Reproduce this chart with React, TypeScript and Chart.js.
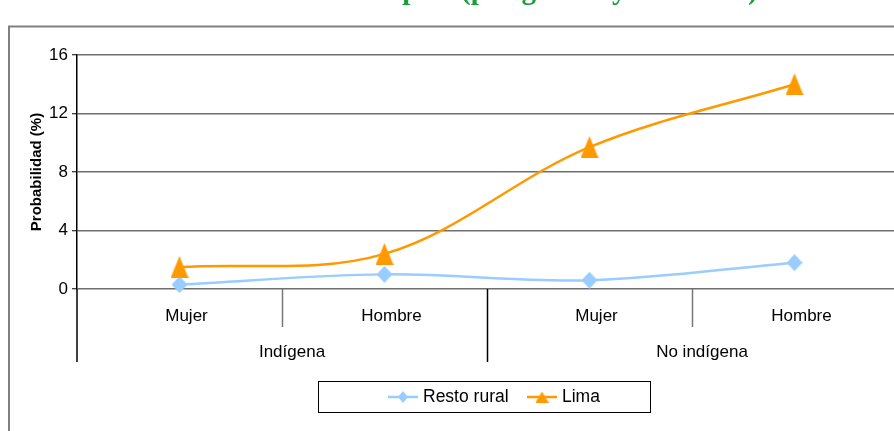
import React, { useEffect, useRef } from 'react';
import { Chart, registerables } from 'chart.js';
Chart.register(...registerables);

// ---- data ----
const categories = ['Mujer', 'Hombre', 'Mujer', 'Hombre'];
const groups = ['Indígena', 'No indígena'];
const groupStart = [0, 2];
const groupEnd = [1, 3];
const seriesNames = ['Resto rural', 'Lima'];
const restoRural = [0.3, 1.0, 0.6, 1.8];
const lima = [1.5, 2.4, 9.7, 14.0];
const yMin = 0;
const yMax = 16;
const yStep = 4;
const yTitle = 'Probabilidad (%)';
const chartTitle = 'Probabilidad de empleo (por género y etnicidad)';

const FONT = '"Liberation Sans", Arial, sans-serif';
const BLUE = '#99CCFF';
const ORANGE = '#FF9900';

function makeMarker(kind: string, w: number, h: number, color: string) {
  const c = document.createElement('canvas');
  c.width = w;
  c.height = h;
  const ctx = c.getContext('2d')!;
  ctx.fillStyle = color;
  ctx.beginPath();
  if (kind === 'triangle') {
    ctx.moveTo(w / 2, 0);
    ctx.lineTo(w, h);
    ctx.lineTo(0, h);
  } else {
    ctx.moveTo(w / 2, 0);
    ctx.lineTo(w, h / 2);
    ctx.lineTo(w / 2, h);
    ctx.lineTo(0, h / 2);
  }
  ctx.closePath();
  ctx.fill();
  return c;
}

export default function App() {
  const ref = useRef<HTMLCanvasElement>(null);

  useEffect(() => {
    const diamond = makeMarker('diamond', 16, 17, BLUE);
    const triangle = makeMarker('triangle', 18, 22, ORANGE);
    const diamondSm = makeMarker('diamond', 10, 12, BLUE);
    const triangleSm = makeMarker('triangle', 13, 11, ORANGE);

    const decor = {
      id: 'decor',
      beforeDraw(chart: any) {
        const ctx = chart.ctx;
        ctx.save();
        ctx.fillStyle = '#fff';
        ctx.fillRect(0, 0, chart.width, chart.height);
        ctx.strokeStyle = '#808080';
        ctx.lineWidth = 2;
        ctx.strokeRect(9, 26.5, 1200, 1200);
        ctx.restore();
      },
      afterDraw(chart: any) {
        const ctx = chart.ctx;
        const x = chart.scales.x;
        const area = chart.chartArea;
        ctx.save();
        // title (clipped at the top of the page)
        ctx.font = 'bold 29px "Liberation Serif", "Times New Roman", serif';
        ctx.fillStyle = '#1a9e3a';
        ctx.textBaseline = 'alphabetic';
        ctx.textAlign = 'left';
        const pre = chartTitle.slice(0, chartTitle.indexOf('('));
        ctx.fillText(chartTitle, 461 - ctx.measureText(pre).width, -1.5);

        // category separators
        const bottom = area.bottom;
        for (let i = 0; i < categories.length - 1; i++) {
          const px = (x.getPixelForValue(i) + x.getPixelForValue(i + 1)) / 2;
          const isGroup = groupStart.indexOf(i + 1) >= 0;
          ctx.beginPath();
          ctx.strokeStyle = isGroup ? '#000' : '#777';
          ctx.lineWidth = 1.5;
          ctx.moveTo(Math.round(px) + 0.5, bottom);
          ctx.lineTo(Math.round(px) + 0.5, isGroup ? 362 : 327);
          ctx.stroke();
        }
        ctx.beginPath();
        ctx.strokeStyle = '#000';
        ctx.lineWidth = 1.5;
        ctx.moveTo(area.left, bottom);
        ctx.lineTo(area.left, 362);
        ctx.stroke();

        // category labels
        ctx.fillStyle = '#000';
        ctx.font = '17px ' + FONT;
        ctx.textAlign = 'center';
        ctx.textBaseline = 'middle';
        categories.forEach((c, i) => {
          ctx.fillText(c, x.getPixelForValue(i) + 7, 316);
        });
        groups.forEach((g, gi) => {
          const cx = (x.getPixelForValue(groupStart[gi]) + x.getPixelForValue(groupEnd[gi])) / 2;
          ctx.fillText(g, cx + 10, 352);
        });

        // legend
        ctx.strokeStyle = '#000';
        ctx.lineWidth = 1;
        ctx.strokeRect(318.5, 381.5, 332, 31);
        const ly = 397;
        const items = [
          { x0: 388, tx: 423, color: BLUE, img: diamondSm, name: seriesNames[0] },
          { x0: 527, tx: 562, color: ORANGE, img: triangleSm, name: seriesNames[1] },
        ];
        items.forEach((it) => {
          ctx.beginPath();
          ctx.strokeStyle = it.color;
          ctx.lineWidth = 2.5;
          ctx.moveTo(it.x0, ly);
          ctx.lineTo(it.x0 + 30, ly);
          ctx.stroke();
          ctx.drawImage(it.img, it.x0 + 15 - it.img.width / 2, ly - it.img.height / 2);
          ctx.fillStyle = '#000';
          ctx.font = '17.5px ' + FONT;
          ctx.textAlign = 'left';
          ctx.textBaseline = 'middle';
          ctx.fillText(it.name, it.tx, ly);
        });
        ctx.restore();
      },
    };

    const chart = new Chart(ref.current!, {
      type: 'line',
      data: {
        labels: categories,
        datasets: [
          {
            label: seriesNames[0],
            data: restoRural,
            borderColor: BLUE,
            backgroundColor: BLUE,
            borderWidth: 2.5,
            pointStyle: diamond as any,
            pointRadius: 9,
            tension: 0.35,
            clip: false as any,
            order: 1,
          },
          {
            label: seriesNames[1],
            data: lima,
            borderColor: ORANGE,
            backgroundColor: ORANGE,
            borderWidth: 2.5,
            pointStyle: triangle as any,
            pointRadius: 9,
            tension: 0.35,
            clip: false as any,
            order: 0,
          },
        ],
      },
      options: {
        responsive: false,
        animation: false,
        devicePixelRatio: 1,
        layout: { padding: { left: 22, top: 55, right: 13, bottom: 0 } },
        plugins: {
          legend: { display: false },
          tooltip: { enabled: false },
          title: { display: false },
        },
        scales: {
          x: {
            type: 'category',
            offset: true,
            ticks: { display: false },
            grid: { display: false },
            border: { display: false },
            afterFit: (s: any) => {
              s.height = 142;
            },
          },
          y: {
            min: yMin,
            max: yMax,
            ticks: {
              stepSize: yStep,
              color: '#000',
              padding: 4,
              font: { family: FONT, size: 17 },
            },
            grid: {
              color: '#6e6e6e',
              lineWidth: 1.5,
              tickLength: 5,
              tickColor: '#000',
              tickWidth: 1,
            },
            border: { color: '#000', width: 1.5 },
            title: {
              display: true,
              text: yTitle,
              color: '#000',
              font: { family: FONT, size: 15, weight: 'bold' },
              padding: { top: 6, bottom: 0 },
            },
            afterFit: (s: any) => {
              s.width = 55;
            },
          },
        },
      },
      plugins: [decor],
    } as any);
    return () => chart.destroy();
  }, []);

  return (
    <div
      style={{
        position: 'fixed',
        left: 0,
        top: 0,
        width: 894,
        height: 431,
        overflow: 'hidden',
        background: '#fff',
      }}
    >
      <canvas ref={ref} width={910} height={431} style={{ display: 'block', width: 910, height: 431 }} />
    </div>
  );
}
